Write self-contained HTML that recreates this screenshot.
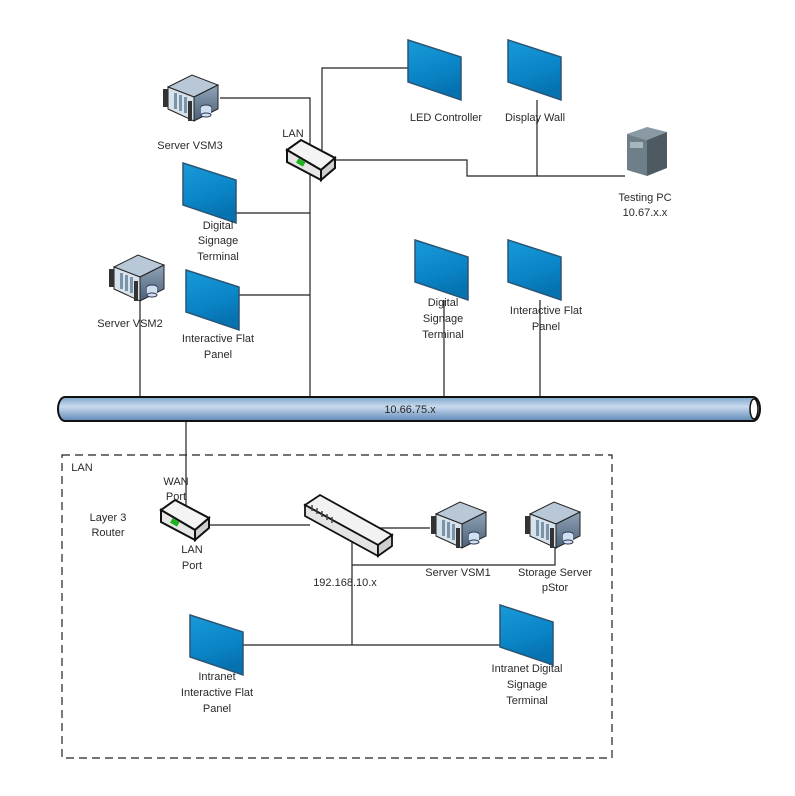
<!DOCTYPE html>
<html><head><meta charset="utf-8"><style>
html,body{margin:0;padding:0;background:#fff;}
svg text{font-family:"Liberation Sans",sans-serif;font-size:11px;fill:#2a2a2a;text-anchor:middle;}
</style></head><body>
<svg width="795" height="791" viewBox="0 0 795 791" xmlns="http://www.w3.org/2000/svg">
<defs>
<linearGradient id="mon" x1="0" y1="0" x2="0.3" y2="1">
<stop offset="0" stop-color="#1a9ad8"/><stop offset="0.6" stop-color="#0a86c8"/><stop offset="1" stop-color="#0672b0"/></linearGradient>
<linearGradient id="bus" x1="0" y1="0" x2="0" y2="1">
<stop offset="0" stop-color="#7fa6cc"/><stop offset="0.4" stop-color="#c8daee"/><stop offset="1" stop-color="#5e88b6"/></linearGradient>
<linearGradient id="srv" x1="0" y1="0" x2="0" y2="1">
<stop offset="0" stop-color="#8fa4b8"/><stop offset="1" stop-color="#4c6076"/></linearGradient>
<g id="monitor"><polygon points="0,0 53,17 53,60 0,42" fill="url(#mon)" stroke="#2a5575" stroke-width="1.5"/></g>
<g id="server">
<polygon points="6,14 30,2 56,12 32,24" fill="#b8c8d6" stroke="#222" stroke-width="1"/>
<polygon points="6,14 32,24 32,48 6,36" fill="#d8e2ea" stroke="#222" stroke-width="1"/>
<polygon points="32,24 56,12 56,36 32,48" fill="url(#srv)" stroke="#222" stroke-width="1"/>
<rect x="12" y="20" width="3" height="16" fill="#7a94ac"/><rect x="17" y="22" width="3" height="16" fill="#7a94ac"/><rect x="22" y="24" width="3" height="16" fill="#7a94ac"/>
<rect x="1" y="16" width="5" height="18" fill="#333"/><rect x="26" y="28" width="4" height="20" fill="#333"/>
<ellipse cx="44" cy="34" rx="5" ry="2" fill="#cfe0f0" stroke="#335"/><rect x="39" y="34" width="10" height="8" fill="#cfe0f0"/><ellipse cx="44" cy="42" rx="5" ry="2" fill="#cfe0f0" stroke="#335"/>
</g>
<g id="router">
<polygon points="4,10 18,0 52,18 38,30" fill="#f4f4f4" stroke="#111" stroke-width="2"/>
<polygon points="4,10 38,30 38,40 4,22" fill="#e6e6e6" stroke="#111" stroke-width="2"/>
<polygon points="38,30 52,18 52,28 38,40" fill="#cfcfcf" stroke="#111" stroke-width="2"/>
<rect x="14" y="20" width="8" height="5" fill="#1db31d" transform="rotate(30 18 22)"/>
</g>
</defs>

<g stroke="#222" stroke-width="1.2" fill="none">
<polyline points="220,98 310,98 310,397"/>
<polyline points="408,68 322,68 322,150"/>
<polyline points="334,160 467,160 467,176 625,176"/>
<polyline points="537,100 537,176"/>
<line x1="235" y1="213" x2="310" y2="213"/>
<line x1="238" y1="295" x2="310" y2="295"/>
<line x1="140" y1="300" x2="140" y2="397"/>
<line x1="444" y1="300" x2="444" y2="397"/>
<line x1="540" y1="300" x2="540" y2="397"/>
<polyline points="186,421 186,525 310,525"/>
<polyline points="352,528 430,528"/>
<polyline points="352,528 352,645"/>
<polyline points="352,565 555,565 555,547"/>
<line x1="243" y1="645" x2="500" y2="645"/>
</g>

<rect x="58" y="397" width="702" height="24" rx="7" ry="12" fill="url(#bus)" stroke="#111" stroke-width="2"/>
<ellipse cx="754" cy="409" rx="4" ry="10" fill="#fff" stroke="#111" stroke-width="1.5"/>
<text x="410" y="413">10.66.75.x</text>

<rect x="62" y="455" width="550" height="303" fill="none" stroke="#222" stroke-width="1.2" stroke-dasharray="8,5"/>

<use href="#monitor" x="408" y="40"/>
<use href="#monitor" x="508" y="40"/>
<use href="#monitor" x="183" y="163"/>
<use href="#monitor" x="186" y="270"/>
<use href="#monitor" x="415" y="240"/>
<use href="#monitor" x="508" y="240"/>
<use href="#monitor" x="190" y="615"/>
<use href="#monitor" x="500" y="605"/>

<use href="#server" x="162" y="73"/>
<use href="#server" x="108" y="253"/>
<use href="#server" x="430" y="500"/>
<use href="#server" x="524" y="500"/>

<use href="#router" x="283" y="140"/>
<use href="#router" x="157" y="500"/>

<g stroke="#111" stroke-width="1.8">
<polygon points="305,505 320,495 392,535 378,545" fill="#f2f2f2"/>
<polygon points="305,505 378,545 378,556 305,516" fill="#e4e4e4"/>
<polygon points="378,545 392,535 392,546 378,556" fill="#cfcfcf"/>
</g>
<g stroke="#444" stroke-width="1.5"><line x1="312" y1="505" x2="312" y2="511"/><line x1="317" y1="508" x2="317" y2="514"/><line x1="322" y1="511" x2="322" y2="517"/><line x1="327" y1="514" x2="327" y2="520"/><line x1="332" y1="517" x2="332" y2="523"/></g>

<polygon points="627,134 647,127 667,132 647,140" fill="#8a9aa4"/>
<polygon points="627,134 647,140 647,176 627,170" fill="#6f7f8a"/>
<polygon points="647,140 667,132 667,168 647,176" fill="#4d5a62"/>
<rect x="630" y="142" width="13" height="6" fill="#a8b6be"/>

<text x="190" y="149">Server VSM3</text>
<text x="293" y="137">LAN</text>
<text x="446" y="121">LED Controller</text>
<text x="535" y="121">Display Wall</text>
<text x="645" y="201">Testing PC</text>
<text x="645" y="216">10.67.x.x</text>
<text x="218" y="229">Digital</text><text x="218" y="244">Signage</text><text x="218" y="260">Terminal</text>
<text x="130" y="327">Server VSM2</text>
<text x="218" y="342">Interactive Flat</text><text x="218" y="358">Panel</text>
<text x="443" y="306">Digital</text><text x="443" y="322">Signage</text><text x="443" y="338">Terminal</text>
<text x="546" y="314">Interactive Flat</text><text x="546" y="330">Panel</text>
<text x="82" y="471">LAN</text>
<text x="176" y="485">WAN</text><text x="176" y="500">Port</text>
<text x="108" y="521">Layer 3</text><text x="108" y="536">Router</text>
<text x="192" y="553">LAN</text><text x="192" y="569">Port</text>
<text x="345" y="586">192.168.10.x</text>
<text x="458" y="576">Server VSM1</text>
<text x="555" y="576">Storage Server</text><text x="555" y="591">pStor</text>
<text x="217" y="680">Intranet</text><text x="217" y="696">Interactive Flat</text><text x="217" y="712">Panel</text>
<text x="527" y="672">Intranet Digital</text><text x="527" y="688">Signage</text><text x="527" y="704">Terminal</text>
</svg>
</body></html>
